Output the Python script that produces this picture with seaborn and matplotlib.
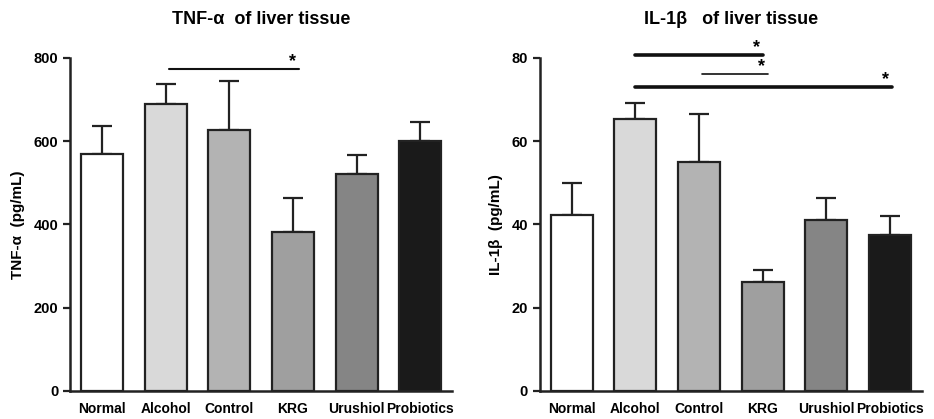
import matplotlib
matplotlib.use("Agg")
import matplotlib.pyplot as plt
import numpy as np
import pandas as pd
import seaborn as sns

sns.set_style("ticks")
plt.rcParams["font.family"] = ["Liberation Sans", "DejaVu Sans"]
plt.rcParams["font.weight"] = "bold"
plt.rcParams["text.color"] = "black"
plt.rcParams["axes.labelcolor"] = "black"
plt.rcParams["xtick.labelcolor"] = "black"
plt.rcParams["ytick.labelcolor"] = "black"

GROUPS = ["Normal", "Alcohol", "Control", "KRG", "Urushiol", "Probiotics"]
COLORS = ["#ffffff", "#d9d9d9", "#b3b3b3", "#9f9f9f", "#858585", "#1a1a1a"]

TNF_MEAN = [569, 689, 627, 382, 521, 600]
TNF_ERR = [68, 48, 118, 82, 46, 46]
IL1B_MEAN = [42.3, 65.3, 55.0, 26.2, 41.0, 37.5]
IL1B_ERR = [7.7, 3.8, 11.5, 2.8, 5.4, 4.6]

# significance lines: (start, end, height, star position, line width)
TNF_SIG = [(1.05, 3.1, 774, 3.0, 1.5)]
IL1B_SIG = [(1.0, 3.0, 80.7, 2.9, 2.6),
            (2.04, 3.08, 76.2, 2.98, 1.2),
            (1.0, 5.03, 73.0, 4.93, 2.6)]


def draw_panel(ax, means, errs, ymax, step, title, ylabel, sigs):
    df = pd.DataFrame({"group": GROUPS, "value": means})
    sns.barplot(data=df, x="group", y="value", hue="group", palette=COLORS,
                edgecolor="#222222", linewidth=1.6, width=0.66, legend=False,
                errorbar=None, ax=ax, zorder=2)
    x = np.arange(len(GROUPS))
    ax.errorbar(x, means, yerr=[np.zeros(len(errs)), errs], fmt="none",
                ecolor="#222222", elinewidth=1.6, capsize=7, capthick=1.6, zorder=1)

    for a, b, h, sx, lw in sigs:
        ax.plot([a, b], [h, h], color="#111111", lw=lw, clip_on=False, zorder=3)
        ax.text(sx, h - ymax * 0.004, "*", ha="center", va="bottom",
                fontsize=13, fontweight="bold", clip_on=False)

    ax.set_xlim(-0.5, 5.5)
    ax.set_ylim(0, ymax)
    ax.set_yticks(np.arange(0, ymax + 1, step))
    ax.set_title(title, fontsize=13, fontweight="bold", pad=24)
    ax.set_ylabel(ylabel, fontsize=11, fontweight="bold", labelpad=6)
    ax.set_xlabel("")
    ax.tick_params(axis="y", labelsize=10.5, width=1.6, length=5, color="#222222")
    ax.tick_params(axis="x", labelsize=10, length=0, pad=8)
    for lab in ax.get_xticklabels() + ax.get_yticklabels():
        lab.set_fontweight("bold")
    sns.despine(ax=ax)
    for side in ["left", "bottom"]:
        ax.spines[side].set_linewidth(1.8)
        ax.spines[side].set_color("#222222")


fig = plt.figure(figsize=(9.34, 4.19), dpi=100)
ax1 = fig.add_axes([0.075, 0.067, 0.409, 0.795])
ax2 = fig.add_axes([0.578, 0.067, 0.409, 0.795])

draw_panel(ax1, TNF_MEAN, TNF_ERR, 800, 200, "TNF-α  of liver tissue",
           "TNF-α  (pg/mL)", TNF_SIG)
draw_panel(ax2, IL1B_MEAN, IL1B_ERR, 80, 20, "IL-1β   of liver tissue",
           "IL-1β  (pg/mL)", IL1B_SIG)

fig.savefig("out.png", dpi=100)
